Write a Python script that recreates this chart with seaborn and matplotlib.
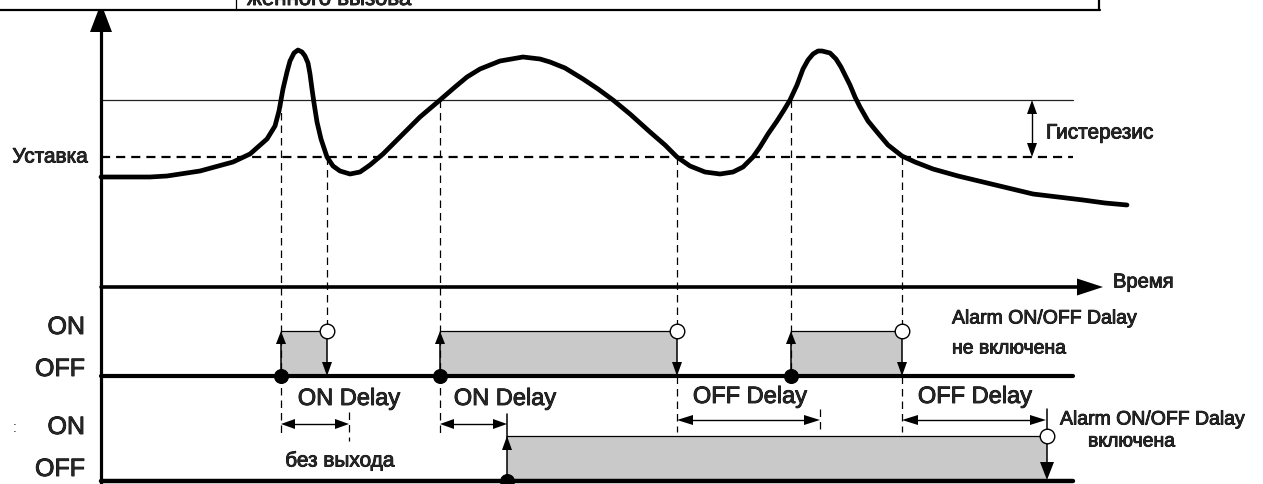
import matplotlib
matplotlib.use("Agg")
import matplotlib.pyplot as plt
import matplotlib.patheffects as pe
import seaborn as sns
import pandas as pd

sns.set_style("white")
plt.rcParams['font.family'] = ['Liberation Sans', 'DejaVu Sans']

W, H = 1263, 485

# ---- process value curve ----
curve_x = [101, 150, 167, 200, 233, 250, 267, 275, 279, 281, 283, 287, 290, 294, 298, 302, 305,
           308, 310, 312, 314, 317, 321, 327, 333, 340, 350, 360, 370, 383, 400, 420, 440, 455,
           467, 480, 500, 523, 540, 550, 565, 583, 598, 613, 630, 650, 665, 677, 690, 705, 720,
           733, 743, 753, 760, 768, 777, 784, 790, 797, 803, 808, 813, 818, 822, 830, 836, 841,
           845, 850, 855, 860, 868, 877, 888, 902, 915, 933, 958, 983, 1008, 1033, 1058, 1083,
           1105, 1127]
curve_y = [178, 178, 177, 172, 163, 155, 140, 127, 112, 101, 90, 73, 62, 54, 51, 53, 57,
           64, 75, 90, 104, 123, 140, 158, 167, 172, 175, 173, 166, 155, 138, 118, 101, 88,
           78, 70, 62, 58, 60, 63, 69, 80, 90, 101, 115, 133, 146, 158, 167, 173, 175,
           173, 168, 158, 148, 135, 122, 111, 101, 86, 70, 61, 55, 52, 52, 54, 60, 68,
           76, 86, 98, 108, 122, 133, 146, 157, 163, 170, 177, 183, 189, 195, 198, 201,
           204, 206]

upper_level = 101      # setpoint + hysteresis
setpoint_level = 158
axis_x0 = 101
time_axis_y = 288
line_end = 1073

# switching events (no delay)
on_times = [281, 440, 791]
off_times = [327, 677, 902]
# delayed output
delayed_on = 507
delayed_off = 1047
on_delay_spans = [(281, 349), (440, 507)]
off_delay_spans = [(677, 820), (902, 1046)]

p1_on, p1_off = 332, 377
p2_on, p2_off = 437, 482

state_labels = ["ON", "OFF", "ON", "OFF"]
state_label_y = [328, 370, 428, 470]

GRAY = "#c9c9c9"
BOLDEN = [pe.withStroke(linewidth=0.6, foreground="black")]

fig = plt.figure(figsize=(W / 100, H / 100), dpi=100)
ax = fig.add_axes([0, 0, 1, 1])
ax.set_xlim(0, W)
ax.set_ylim(H, 0)
ax.axis("off")


def txt(x, y, s, **kw):
    ax.text(x, y, s, path_effects=BOLDEN, **kw)


def head(tx, ty, d, length=13, half=5, z=6):
    if d == "up":
        xs, ys = [tx, tx - half, tx + half], [ty, ty + length, ty + length]
    elif d == "down":
        xs, ys = [tx, tx - half, tx + half], [ty, ty - length, ty - length]
    elif d == "left":
        xs, ys = [tx, tx + length, tx + length], [ty, ty - half, ty + half]
    else:
        xs, ys = [tx, tx - length, tx - length], [ty, ty - half, ty + half]
    ax.fill(xs, ys, color="black", lw=0, zorder=z)


def vdash(x, y0, y1):
    ax.plot([x, x], [y0, y1], color="black", lw=0.9, dashes=(6, 4), zorder=2)


# ---- cropped table header at top ----
ax.plot([0, 1100], [11, 11], color="black", lw=1.6)
ax.plot([236, 236], [0, 11], color="black", lw=0.9)
ax.plot([1099, 1099], [0, 11], color="black", lw=1.6)
txt(247, 6, "женного вызова", fontsize=16, va="baseline", ha="left")

# ---- axes ----
ax.plot([axis_x0, axis_x0], [30, H], color="black", lw=2.3, zorder=4)
ax.fill([90, 112, 104, 98], [33, 33, 12, 12], color="black", lw=0, zorder=4)
ax.plot([axis_x0, 1080], [time_axis_y, time_axis_y], color="black", lw=2.6, zorder=4)
head(1103, time_axis_y, "right", length=26, half=8.5)
txt(1113, 283, "Время", fontsize=14.5, va="center", ha="left")

# ---- thresholds ----
ax.plot([axis_x0, line_end], [upper_level, upper_level], color="#222222", lw=0.9)
ax.plot([axis_x0, line_end], [setpoint_level, setpoint_level], color="black", lw=1.6,
        dashes=(4.1, 2.7))
txt(88, setpoint_level, "Уставка", fontsize=15, va="center", ha="right")

# hysteresis arrow
ax.plot([1032, 1032], [upper_level + 8, setpoint_level - 8], color="black", lw=1.0)
head(1032, upper_level, "up", length=14, half=5)
head(1032, setpoint_level, "down", length=14, half=5)
txt(1046, 134, "Гистерезис", fontsize=15, va="center", ha="left")

# ---- process curve ----
curve = pd.DataFrame({"t": curve_x, "v": curve_y})
sns.lineplot(data=curve, x="t", y="v", ax=ax, sort=False, estimator=None,
             color="black", lw=3.4, zorder=5)
ax.set_xlim(0, W)
ax.set_ylim(H, 0)
ax.axis("off")

# ---- dashed guides ----
for x in on_times[:2]:
    vdash(x, upper_level, 437)
vdash(on_times[2], upper_level, p1_off)
for x in off_times:
    vdash(x, setpoint_level, p1_on)
for x in off_times[1:]:
    vdash(x, p1_off, 433)
vdash(on_delay_spans[0][1], 413, 442)
vdash(off_delay_spans[0][1], 410, 434)

# ---- panel 1: output without delay ----
for a, b in zip(on_times, off_times):
    ax.fill_between([a, b], p1_on, p1_off, color=GRAY, lw=0, zorder=1)
    ax.plot([a, b], [p1_on, p1_on], color="black", lw=0.9, zorder=3)
    ax.plot([a, a], [p1_off, p1_on + 5], color="black", lw=1.1, zorder=3)
    head(a, p1_on, "up", length=13, half=5)
    ax.plot([b, b], [p1_on, p1_off - 5], color="black", lw=1.1, zorder=3)
    head(b, p1_off, "down", length=14, half=5)
ax.plot([axis_x0, line_end], [p1_off, p1_off], color="black", lw=3.0, zorder=4)

# ---- panel 2: output with delay ----
ax.fill_between([delayed_on, delayed_off], p2_on, p2_off, color=GRAY, lw=0, zorder=1)
ax.plot([delayed_on, delayed_off], [p2_on, p2_on], color="black", lw=0.9, zorder=3)
ax.plot([delayed_on, delayed_on], [415, p2_off], color="black", lw=1.1, zorder=3)
head(delayed_on, p2_on, "up", length=14, half=5)
ax.plot([delayed_off, delayed_off], [410, p2_off - 5], color="black", lw=1.1, zorder=3)
head(delayed_off, p2_off - 1, "down", length=18, half=7)
ax.plot([axis_x0, line_end], [p2_off, p2_off], color="black", lw=3.2, zorder=4)

# ---- markers ----
dots = pd.DataFrame({"x": on_times + [delayed_on], "y": [p1_off] * 3 + [p2_off]})
sns.scatterplot(data=dots, x="x", y="y", ax=ax, s=100, color="black", edgecolor="black",
                zorder=7, legend=False)
circ = pd.DataFrame({"x": off_times + [delayed_off], "y": [p1_on] * 3 + [p2_on]})
sns.scatterplot(data=circ, x="x", y="y", ax=ax, s=110, color="white", edgecolor="black",
                linewidth=1.0, zorder=8, legend=False)
ax.set_xlim(0, W)
ax.set_ylim(H, 0)
ax.axis("off")

# ---- delay dimension arrows ----
for (a, b) in on_delay_spans:
    ax.plot([a + 10, b - 10], [425, 425], color="black", lw=1.0)
    head(a, 425, "left", length=14, half=5)
    head(b, 425, "right", length=14, half=5)
for (a, b) in off_delay_spans:
    ax.plot([a + 10, b - 10], [421, 421], color="black", lw=1.0)
    head(a, 421, "left", length=16, half=5)
    head(b, 421, "right", length=16, half=5)

txt(349, 400, "ON Delay", fontsize=17, va="center", ha="center")
txt(505, 400, "ON Delay", fontsize=17, va="center", ha="center")
txt(750, 398, "OFF Delay", fontsize=17, va="center", ha="center")
txt(975, 398, "OFF Delay", fontsize=17, va="center", ha="center")
txt(340, 462, "без выхода", fontsize=15, va="center", ha="center")

txt(952, 320, "Alarm ON/OFF Dalay", fontsize=14, va="center", ha="left")
txt(952, 350, "не включена", fontsize=14, va="center", ha="left")
txt(1060, 421, "Alarm ON/OFF Dalay", fontsize=14, va="center", ha="left")
txt(1088, 443, "включена", fontsize=14, va="center", ha="left")

for lab, y in zip(state_labels, state_label_y):
    txt(85, y, lab, fontsize=18, va="center", ha="right")
ax.text(15, 428, ":", fontsize=10, va="center", ha="center")

fig.savefig("out.png", dpi=100)
